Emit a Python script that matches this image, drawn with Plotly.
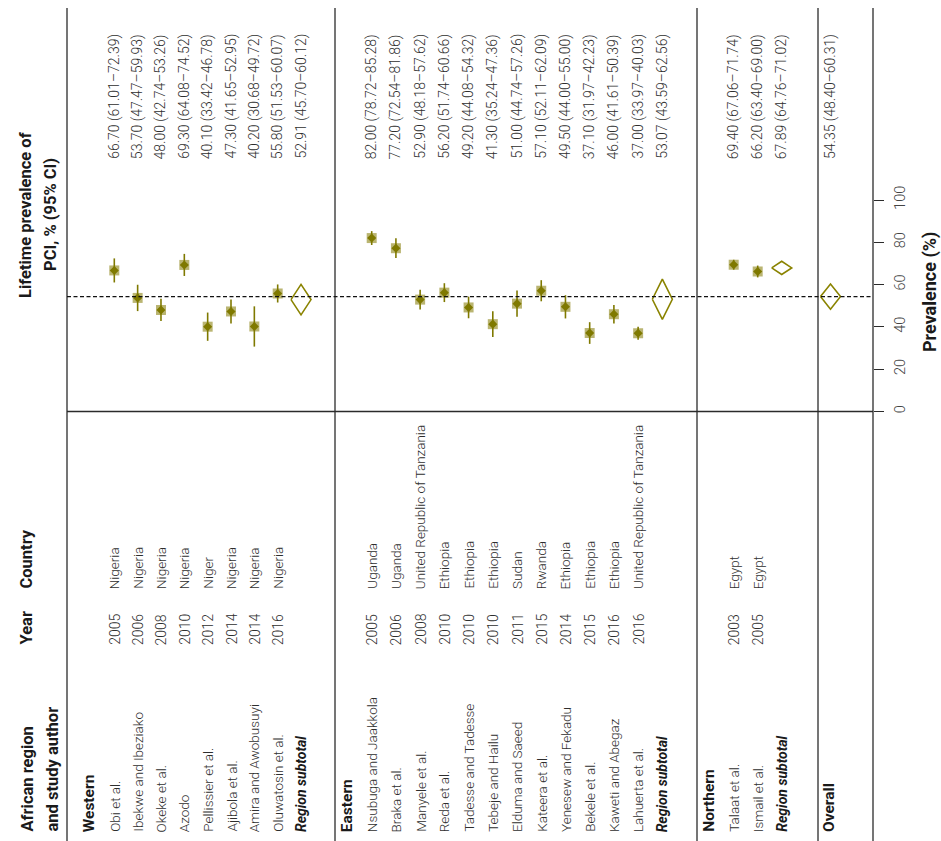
import plotly.graph_objects as go

# ---------------------------------------------------------------------------
# Data: lifetime prevalence of post-crash injury (PCI), % with 95% CI
# ---------------------------------------------------------------------------
west_authors = ["Obi et al.", "Ibekwe and Ibeziako", "Okeke et al.", "Azodo",
                "Pellissier et al.", "Ajibola et al.", "Amira and Awobusuyi",
                "Oluwatosin et al."]
west_years = ["2005", "2006", "2008", "2010", "2012", "2014", "2014", "2016"]
west_countries = ["Nigeria", "Nigeria", "Nigeria", "Nigeria", "Niger",
                  "Nigeria", "Nigeria", "Nigeria"]
west_est = [66.70, 53.70, 48.00, 69.30, 40.10, 47.30, 40.20, 55.80]
west_lo = [61.01, 47.47, 42.74, 64.08, 33.42, 41.65, 30.68, 51.53]
west_hi = [72.39, 59.93, 53.26, 74.52, 46.78, 52.95, 49.72, 60.07]
west_sub = [52.91, 45.70, 60.12]

east_authors = ["Nsubuga and Jaakkola", "Braka et al.", "Manyele et al.",
                "Reda et al.", "Tadesse and Tadesse", "Tebeje and Hailu",
                "Elduma and Saeed", "Kateera et al.", "Yenesew and Fekadu",
                "Bekele et al.", "Kaweti and Abegaz", "Lahuerta et al."]
east_years = ["2005", "2006", "2008", "2010", "2010", "2010", "2011", "2015",
              "2014", "2015", "2016", "2016"]
east_countries = ["Uganda", "Uganda", "United Republic of Tanzania",
                  "Ethiopia", "Ethiopia", "Ethiopia", "Sudan", "Rwanda",
                  "Ethiopia", "Ethiopia", "Ethiopia",
                  "United Republic of Tanzania"]
east_est = [82.00, 77.20, 52.90, 56.20, 49.20, 41.30, 51.00, 57.10, 49.50,
            37.10, 46.00, 37.00]
east_lo = [78.72, 72.54, 48.18, 51.74, 44.08, 35.24, 44.74, 52.11, 44.00,
           31.97, 41.61, 33.97]
east_hi = [85.28, 81.86, 57.62, 60.66, 54.32, 47.36, 57.26, 62.09, 55.00,
           42.23, 50.39, 40.03]
east_sub = [53.07, 43.59, 62.56]

north_authors = ["Talaat et al.", "Ismail et al."]
north_years = ["2003", "2005"]
north_countries = ["Egypt", "Egypt"]
north_est = [69.40, 66.20]
north_lo = [67.06, 63.40]
north_hi = [71.74, 69.00]
north_sub = [67.89, 64.76, 71.02]

overall = [54.35, 48.40, 60.31]

axis_ticks = [0, 20, 40, 60, 80, 100]

# ---------------------------------------------------------------------------
# Page geometry (the table runs left to right, text reads bottom to top)
# ---------------------------------------------------------------------------
W, H = 941, 841
ZERO_PX = 411.5          # vertical pixel of prevalence 0
PX_PER_UNIT = 2.115      # pixels per percentage point
TOP_PX = 8               # top of the table rules
AXIS_X = 873             # right-hand rule / prevalence axis
RULES_X = [67, 335, 697, 818, AXIS_X]

groups = [
    dict(name="Western", authors=west_authors, years=west_years,
         countries=west_countries, est=west_est, lo=west_lo, hi=west_hi,
         sub=west_sub, first=114.3, pitch=23.34),
    dict(name="Eastern", authors=east_authors, years=east_years,
         countries=east_countries, est=east_est, lo=east_lo, hi=east_hi,
         sub=east_sub, first=371.7, pitch=24.22),
    dict(name="Northern", authors=north_authors, years=north_years,
         countries=north_countries, est=north_est, lo=north_lo, hi=north_hi,
         sub=north_sub, first=733.7, pitch=24.0),
]
OVERALL_X = 830.5

OLIVE = "#7f7900"
OLIVE_LIGHT = "rgba(160,152,60,0.72)"
DIAMOND_LINE = "#8a8300"
TXT = "#2e2e2e"
TXT_BOLD = "#1a1a1a"

LIGHT = dict(family="Roboto", size=14, color=TXT, weight=300)
LIGHT_NAME = dict(family="Roboto", size=13.5, color=TXT, weight=300)
BOLD_HDR = dict(family="Roboto", size=16.5, color=TXT_BOLD, weight=700)
BOLD_ROW = dict(family="Roboto", size=15.5, color=TXT_BOLD, weight=700)
BOLD_ITAL = dict(family="Roboto", size=14, color=TXT_BOLD, weight=700,
                 style="italic")


def py(px):
    """Vertical pixel position -> paper fraction."""
    return 1 - px / H


# text column baselines (where each rotated label starts)
AUTHOR_START = 833
YEAR_START = 646
COUNTRY_START = 590
CI_START = 160
HALF_W = 10              # half width of pooled-estimate diamonds

fig = go.Figure()
annotations = []


def label(x, y_px, text, font, yanchor="bottom", xanchor="center"):
    annotations.append(dict(
        x=x, xref="x", y=py(y_px), yref="paper", text=text, font=font,
        textangle=-90, showarrow=False, xanchor=xanchor, yanchor=yanchor,
        borderpad=0))


def ci_text(v):
    return f"{v[0]:.2f} ({v[1]:.2f}\u2013{v[2]:.2f})"


def pooled_diamond(x, v):
    est, lo, hi = v
    fig.add_trace(go.Scatter(
        x=[x - HALF_W, x, x + HALF_W, x, x - HALF_W],
        y=[est, hi, est, lo, est], mode="lines",
        line=dict(color=DIAMOND_LINE, width=1.6), hoverinfo="skip",
        showlegend=False))


sq_x, sq_y = [], []
pt_x, pt_y, err_up, err_dn = [], [], [], []

for g in groups:
    xs = [g["first"] + i * g["pitch"] for i in range(len(g["est"]))]
    sub_x = g["first"] + len(g["est"]) * g["pitch"]
    head_x = g["first"] - 25
    label(head_x, AUTHOR_START, g["name"], BOLD_ROW)
    for x, a, yr, c, e, lo, hi in zip(xs, g["authors"], g["years"],
                                      g["countries"], g["est"], g["lo"],
                                      g["hi"]):
        label(x, AUTHOR_START, a, LIGHT_NAME)
        label(x, YEAR_START, yr, LIGHT)
        label(x, COUNTRY_START, c, LIGHT_NAME)
        label(x, CI_START, ci_text([e, lo, hi]), LIGHT)
        sq_x.append(x)
        sq_y.append(e)
        pt_x.append(x)
        pt_y.append(e)
        err_up.append(hi - e)
        err_dn.append(e - lo)
    label(sub_x, AUTHOR_START, "Region subtotal", BOLD_ITAL)
    label(sub_x, CI_START, ci_text(g["sub"]), LIGHT)
    pooled_diamond(sub_x, g["sub"])

label(OVERALL_X - 2, AUTHOR_START, "Overall", BOLD_ROW)
label(OVERALL_X, CI_START, ci_text(overall), LIGHT)
pooled_diamond(OVERALL_X, overall)

# study weights (squares) beneath the point estimates and CIs
fig.add_trace(go.Scatter(
    x=sq_x, y=sq_y, mode="markers",
    marker=dict(symbol="square", size=10, color=OLIVE_LIGHT,
                line=dict(width=0)),
    hoverinfo="skip", showlegend=False))
fig.add_trace(go.Scatter(
    x=pt_x, y=pt_y, mode="markers",
    marker=dict(symbol="diamond", size=7, color=OLIVE, line=dict(width=0)),
    error_y=dict(type="data", symmetric=False, array=err_up,
                 arrayminus=err_dn, color=OLIVE, thickness=1.6, width=0),
    showlegend=False))

# column headers
label(27, AUTHOR_START, "African region", BOLD_HDR)
label(52, AUTHOR_START, "and study author", BOLD_HDR)
label(26, YEAR_START, "Year", BOLD_HDR)
label(26, COUNTRY_START, "Country", BOLD_HDR)
label(25, 215, "Lifetime prevalence of", BOLD_HDR, yanchor="middle")
label(50, 215, "PCI, % (95% CI)", BOLD_HDR, yanchor="middle")
label(930, 292, "Prevalence (%)",
      dict(family="Roboto", size=18, color=TXT_BOLD, weight=700),
      yanchor="middle")

# table rules, zero line and overall reference line
shapes = []
for rx in RULES_X:
    shapes.append(dict(type="line", xref="x", yref="paper", x0=rx, x1=rx,
                       y0=0, y1=py(TOP_PX),
                       line=dict(color="#2b2b2b", width=1.3)))
shapes.append(dict(type="line", xref="x", yref="y", x0=RULES_X[0],
                   x1=AXIS_X, y0=0, y1=0,
                   line=dict(color="#2b2b2b", width=1.3)))
shapes.append(dict(type="line", xref="x", yref="y", x0=RULES_X[0],
                   x1=AXIS_X, y0=overall[0], y1=overall[0],
                   line=dict(color="#111111", width=1.2, dash="4px,2.5px")))

y_top = ZERO_PX / PX_PER_UNIT
y_bottom = (ZERO_PX - H) / PX_PER_UNIT

fig.update_layout(
    width=W, height=H,
    margin=dict(l=0, r=0, t=0, b=0),
    paper_bgcolor="white", plot_bgcolor="white",
    showlegend=False,
    xaxis=dict(range=[0, W], visible=False, fixedrange=True),
    yaxis=dict(range=[y_bottom, y_top], anchor="free",
               position=AXIS_X / W, side="right", showgrid=False,
               zeroline=False, showline=False, ticks="outside",
               ticklen=10, tickwidth=1.3, tickcolor="#2b2b2b",
               tickvals=axis_ticks, ticktext=[str(t) for t in axis_ticks],
               tickangle=-90, ticklabelstandoff=4,
               tickfont=dict(family="Roboto", size=14.5, color="#444444",
                             weight=300),
               fixedrange=True),
    shapes=shapes,
    annotations=annotations,
)

fig.write_html("out.html")
